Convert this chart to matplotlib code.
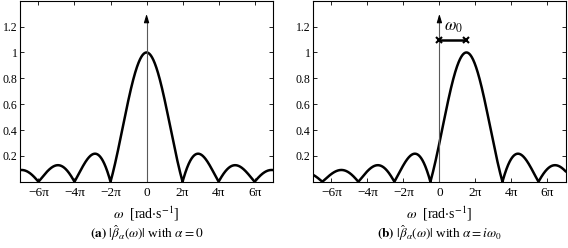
import numpy as np
import matplotlib.pyplot as plt

plt.rcParams['font.family'] = ['Liberation Serif', 'DejaVu Serif']
plt.rcParams['mathtext.fontset'] = 'stix'

# peak position (shift) of each panel, in rad/s
shifts = [0.0, 1.5 * np.pi]
lobe_width = 2 * np.pi          # spacing between zeros
x_min, x_max = -7 * np.pi, 7 * np.pi
y_max = 1.4

tick_pos = [-6, -4, -2, 0, 2, 4, 6]
tick_labels = ['\u22126\u03c0', '\u22124\u03c0', '\u22122\u03c0', '0', '2\u03c0', '4\u03c0', '6\u03c0']
ytick_pos = [0.2, 0.4, 0.6, 0.8, 1.0, 1.2]
ytick_labels = ['0.2', '0.4', '0.6', '0.8', '1', '1.2']

captions = [r'$\mathbf{(a)}$ $|\hat{\beta}_\alpha(\omega)|$ with $\alpha = 0$',
            r'$\mathbf{(b)}$ $|\hat{\beta}_\alpha(\omega)|$ with $\alpha = i\omega_0$']

fig = plt.figure(figsize=(5.68, 2.48), dpi=100)
lefts = [0.036, 0.5516]

w = np.linspace(x_min, x_max, 2000)
for k in range(2):
    ax = fig.add_axes([lefts[k], 0.267, 0.444, 0.73])
    amp = np.abs(np.sinc((w - shifts[k]) / lobe_width))
    ax.plot(w, amp, color='black', lw=1.8)

    # vertical axis arrow at omega = 0
    ax.plot([0, 0], [0, 1.27], color='0.35', lw=0.8)
    ax.annotate('', xy=(0, 1.32), xytext=(0, 1.24),
                arrowprops=dict(arrowstyle='-|>,head_length=0.5,head_width=0.15',
                                color='black', lw=0.8))

    if k == 1:
        ax.plot([0, shifts[1]], [1.1, 1.1], color='black', lw=1.8,
                marker='x', ms=5, mew=1.5)
        ax.text(0.8 * np.pi, 1.2, r'$\omega_0$', fontsize=12, ha='center', va='center')

    ax.set_xlim(x_min, x_max)
    ax.set_ylim(0, y_max)
    ax.set_xticks([t * np.pi for t in tick_pos])
    ax.set_xticklabels(tick_labels)
    ax.set_yticks(ytick_pos)
    ax.set_yticklabels(ytick_labels)
    ax.tick_params(direction='in', top=True, right=True,
                   length=3, width=0.6)
    ax.tick_params(axis='x', labelsize=9.5, pad=4)
    ax.tick_params(axis='y', labelsize=8.5, pad=2)
    for s in ax.spines.values():
        s.set_linewidth(0.8)
    ax.set_xlabel(r'$\omega$  [rad$\cdot$s$^{-1}$]', fontsize=10, labelpad=4)

    fig.text(lefts[k] + 0.222, 0.06, captions[k], fontsize=9.5, ha='center', va='center')

fig.savefig('out.png', dpi=100)
